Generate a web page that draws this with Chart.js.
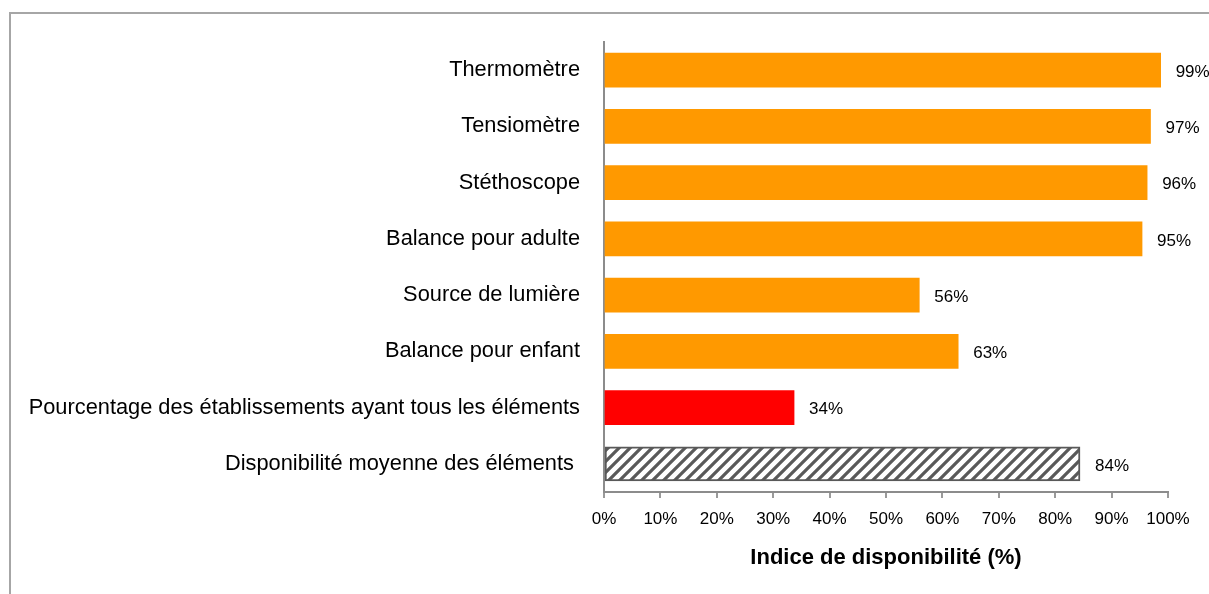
<!DOCTYPE html>
<html>
<head>
<meta charset="utf-8">
<script src="https://cdn.jsdelivr.net/npm/chart.js@4/dist/chart.umd.min.js"></script>
<style>
  html, body { margin: 0; padding: 0; background: #fff; overflow: hidden; }
  #frame { position: absolute; left: 9px; top: 12px; width: 1400px; height: 800px;
           border-left: 2px solid #a6a6a6; border-top: 2px solid #a6a6a6; }
  #wrap { position: absolute; left: 0; top: 0; width: 1209px; height: 594px; }
</style>
</head>
<body>
<div id="frame"></div>
<div id="wrap"><canvas id="chart-utama" width="1209" height="594"></canvas></div>
<script>
const categories = [
    "Thermomètre",
    "Tensiomètre",
    "Stéthoscope",
    "Balance pour adulte",
    "Source de lumière",
    "Balance pour enfant",
    "Pourcentage des établissements ayant tous les éléments",
    "Disponibilité moyenne des éléments "
];
const values = [98.7, 96.9, 96.3, 95.4, 55.9, 62.8, 33.7, 84.4];
const xTicks = [0, 10, 20, 30, 40, 50, 60, 70, 80, 90, 100];
const axisTitle = "Indice de disponibilité (%)";

const FONT = "'Liberation Sans', Arial, sans-serif";

// hachures pour la barre "moyenne"
function makeHatch() {
    const n = 11;
    const c = document.createElement("canvas");
    c.width = n;
    c.height = n;
    const g = c.getContext("2d");
    g.fillStyle = "#ffffff";
    g.fillRect(0, 0, n, n);
    g.strokeStyle = "#595959";
    g.lineWidth = 3.2;
    g.beginPath();
    g.moveTo(-2, n + 2); g.lineTo(n + 2, -2);
    g.moveTo(-2, 2); g.lineTo(2, -2);
    g.moveTo(n - 2, n + 2); g.lineTo(n + 2, n - 2);
    g.stroke();
    return g.createPattern(c, "repeat");
}

const hatch = makeHatch();
const barColors = ["#ff9900", "#ff9900", "#ff9900", "#ff9900", "#ff9900", "#ff9900", "#ff0000", hatch];
const barBorders = ["#ff9900", "#ff9900", "#ff9900", "#ff9900", "#ff9900", "#ff9900", "#ff0000", "#595959"];
const barBorderW = [0, 0, 0, 0, 0, 0, 0, 2];

const valueLabels = {
    id: "valueLabels",
    afterDatasetsDraw(chart) {
        const ctx = chart.ctx;
        const meta = chart.getDatasetMeta(0);
        ctx.save();
        ctx.font = "17px " + FONT;
        ctx.fillStyle = "#000";
        ctx.textAlign = "left";
        ctx.textBaseline = "middle";
        meta.data.forEach((bar, i) => {
            ctx.fillText(Math.round(values[i]) + "%", bar.x + 15, bar.y + 2);
        });
        ctx.restore();
    }
};

const ctx = document.getElementById("chart-utama");
const mychart = new Chart(ctx, {
    type: "bar",
    data: {
        labels: categories,
        datasets: [
            {
                data: values,
                backgroundColor: barColors,
                borderColor: barBorders,
                borderWidth: barBorderW,
                borderSkipped: false,
                barThickness: 34,
            },
        ],
    },
    options: {
        indexAxis: "y",
        responsive: false,
        animation: false,
        layout: { padding: { left: 0, right: 41, top: 42, bottom: 0 } },
        plugins: {
            legend: { display: false },
            tooltip: { enabled: false },
        },
        scales: {
            x: {
                min: 0,
                max: 100,
                afterFit: (scale) => { scale.height = 102; },
                afterBuildTicks: (scale) => { scale.ticks = xTicks.map((v) => ({ value: v })); },
                grid: { drawOnChartArea: false, drawTicks: true, tickLength: 6, color: "#9a9a9a", lineWidth: 2 },
                border: { display: true, color: "#8c8c8c", width: 2 },
                ticks: {
                    padding: 11,
                    color: "#000",
                    font: { family: FONT, size: 17 },
                    callback: (v) => v + "%",
                },
                title: {
                    display: true,
                    text: axisTitle,
                    color: "#000",
                    font: { family: FONT, size: 22, weight: "bold" },
                    padding: { top: 0, bottom: 23 },
                },
            },
            y: {
                afterFit: (scale) => { scale.width = 604; },
                grid: { drawOnChartArea: false, drawTicks: false },
                border: { display: true, color: "#8c8c8c", width: 2 },
                ticks: {
                    autoSkip: false,
                    padding: 24,
                    color: "#000",
                    font: { family: FONT, size: 21.8 },
                },
            },
        },
    },
    plugins: [valueLabels],
});
</script>
</body>
</html>
